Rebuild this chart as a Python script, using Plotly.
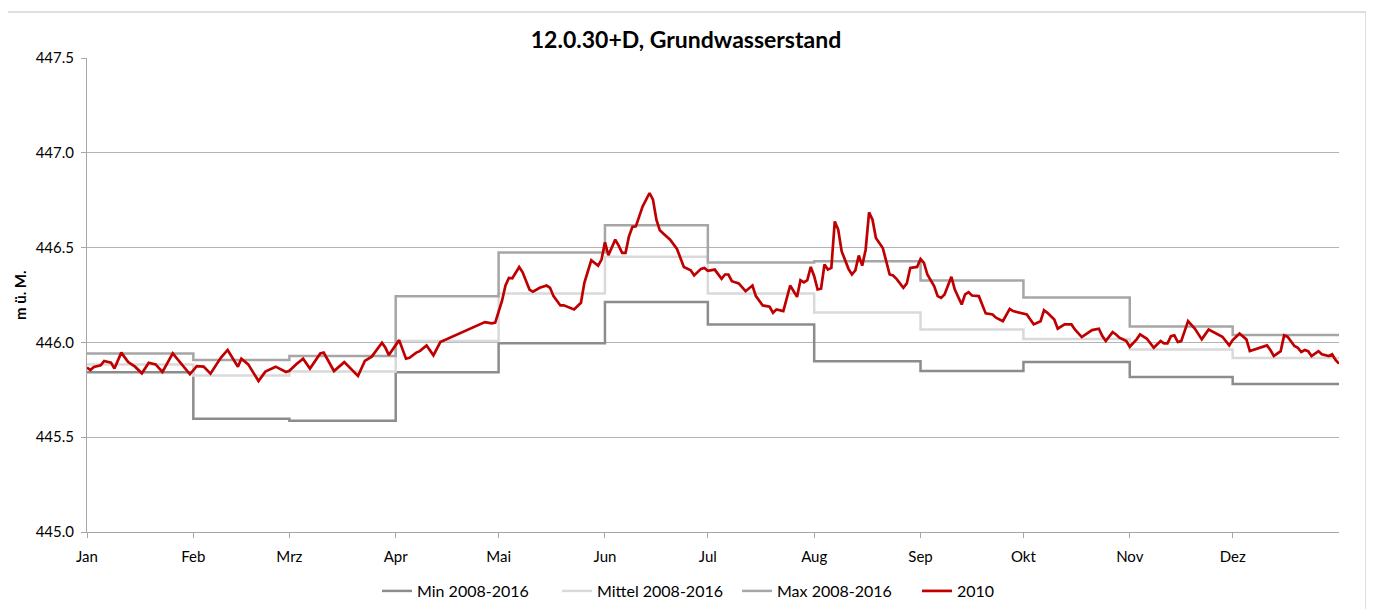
import plotly.graph_objects as go

# Month tick positions (day of year) and labels
month_start_days = [0, 31, 59, 90, 120, 151, 181, 212, 243, 273, 304, 334]
month_labels = ["Jan", "Feb", "Mrz", "Apr", "Mai", "Jun", "Jul", "Aug", "Sep", "Okt", "Nov", "Dez"]
year_end_day = 365

# Monthly statistics 2008-2016 (m ü. M.)
min_vals = [445.842, 445.597, 445.587, 445.842, 445.995, 446.213, 446.095, 445.900, 445.849, 445.897, 445.818, 445.780]
mittel_vals = [445.884, 445.826, 445.847, 446.008, 446.258, 446.452, 446.258, 446.158, 446.068, 446.018, 445.963, 445.918]
max_vals = [445.942, 445.907, 445.928, 446.244, 446.474, 446.618, 446.421, 446.428, 446.326, 446.237, 446.084, 446.039]

# 2010 daily groundwater level (day of year, value)
days_2010 = [0, 1, 2, 4, 5, 7, 8, 10, 12, 14, 16, 18, 20, 22, 25, 27, 30, 32, 34, 36,
             39, 41, 44, 45, 47, 50, 52, 55, 58, 59, 61, 63, 65, 68, 69, 72, 75, 79, 81, 83,
             86, 87, 88, 91, 93, 94, 96, 97, 99, 101, 103, 116, 118, 119, 121, 122, 123, 124, 126, 127,
             129, 130, 132, 134, 135, 136, 138, 139, 141, 142, 144, 145, 147, 148, 149, 150, 151, 152, 154, 155,
             156, 157, 158, 159, 160, 161, 162, 164, 165, 166, 167, 168, 170, 172, 173, 174, 176, 177, 179, 180,
             181, 183, 185, 186, 187, 188, 190, 192, 194, 195, 197, 199, 200, 201, 203, 205, 207, 208, 209, 210,
             211, 212, 213, 214, 215, 216, 217, 218, 219, 220, 222, 223, 224, 225, 226, 227, 228, 229, 230, 232,
             234, 235, 236, 238, 239, 240, 242, 243, 244, 245, 247, 248, 249, 250, 252, 253, 255, 256, 257, 258,
             260, 262, 264, 265, 267, 269, 270, 272, 274, 275, 276, 278, 279, 280, 282, 283, 285, 287, 288, 290,
             292, 293, 295, 296, 297, 299, 300, 301, 303, 304, 306, 307, 309, 311, 313, 314, 315, 316, 317, 318,
             319, 321, 323, 325, 327, 329, 331, 333, 334, 336, 337, 338, 339, 341, 342, 344, 345, 346, 348, 349,
             350, 351, 352, 353, 354, 355, 356, 357, 359, 360, 362, 363, 364, 365]
vals_2010 = [445.867, 445.854, 445.870, 445.879, 445.902, 445.893, 445.862, 445.946, 445.896, 445.872,
             445.837, 445.893, 445.884, 445.844, 445.942, 445.896, 445.832, 445.875, 445.872, 445.835,
             445.919, 445.960, 445.872, 445.914, 445.884, 445.796, 445.846, 445.872, 445.844, 445.850,
             445.885, 445.914, 445.862, 445.942, 445.946, 445.849, 445.896, 445.823, 445.902, 445.925,
             445.998, 445.972, 445.933, 446.012, 445.914, 445.919, 445.946, 445.954, 445.984, 445.932,
             446.002, 446.107, 446.100, 446.104, 446.220, 446.300, 446.340, 446.338, 446.398, 446.370,
             446.279, 446.267, 446.288, 446.300, 446.288, 446.244, 446.195, 446.196, 446.183, 446.174,
             446.209, 446.314, 446.433, 446.419, 446.405, 446.437, 446.528, 446.460, 446.542, 446.510,
             446.472, 446.472, 446.559, 446.609, 446.612, 446.665, 446.718, 446.788, 446.753, 446.647,
             446.591, 446.574, 446.542, 446.493, 446.440, 446.398, 446.380, 446.353, 446.388, 446.393,
             446.378, 446.384, 446.335, 446.358, 446.358, 446.323, 446.311, 446.270, 446.300, 446.244,
             446.195, 446.188, 446.156, 446.174, 446.165, 446.300, 446.240, 446.328, 446.317, 446.328,
             446.398, 446.349, 446.279, 446.283, 446.411, 446.384, 446.393, 446.638, 446.595, 446.481,
             446.388, 446.358, 446.380, 446.458, 446.405, 446.489, 446.686, 446.647, 446.551, 446.498,
             446.358, 446.353, 446.335, 446.288, 446.311, 446.393, 446.398, 446.440, 446.419, 446.358,
             446.296, 446.244, 446.235, 446.253, 446.346, 446.279, 446.200, 446.253, 446.265, 446.247,
             446.244, 446.153, 446.147, 446.130, 446.112, 446.177, 446.165, 446.156, 446.147, 446.121,
             446.095, 446.112, 446.170, 446.156, 446.121, 446.072, 446.095, 446.095, 446.068, 446.028,
             446.054, 446.065, 446.072, 446.033, 446.007, 446.054, 446.042, 446.025, 446.007, 445.977,
             446.016, 446.042, 446.019, 445.972, 446.007, 445.995, 445.995, 446.033, 446.037, 446.002,
             446.007, 446.112, 446.072, 446.016, 446.068, 446.047, 446.030, 445.984, 446.012, 446.047,
             446.033, 446.016, 445.954, 445.967, 445.972, 445.984, 445.960, 445.928, 445.954, 446.037,
             446.030, 446.002, 445.981, 445.972, 445.949, 445.960, 445.954, 445.928, 445.954, 445.937,
             445.928, 445.937, 445.907, 445.888]

FONT = "Lato"
step_x = month_start_days + [year_end_day]

fig = go.Figure()
fig.add_trace(go.Scatter(x=step_x, y=min_vals + [min_vals[-1]], mode="lines", line_shape="hv",
                         name="Min 2008-2016", line=dict(color="#8c8c8c", width=2.5)))
fig.add_trace(go.Scatter(x=step_x, y=mittel_vals + [mittel_vals[-1]], mode="lines", line_shape="hv",
                         name="Mittel 2008-2016", line=dict(color="#d9d9d9", width=2.5)))
fig.add_trace(go.Scatter(x=step_x, y=max_vals + [max_vals[-1]], mode="lines", line_shape="hv",
                         name="Max 2008-2016", line=dict(color="#a6a6a6", width=2.5)))
fig.add_trace(go.Scatter(x=days_2010, y=vals_2010, mode="lines",
                         name="2010", line=dict(color="#c00000", width=2.7)))

fig.update_layout(
    width=1374, height=609,
    margin=dict(l=79, r=43, t=50, b=85, autoexpand=False),
    paper_bgcolor="white", plot_bgcolor="white",
    font=dict(family=FONT, size=15, color="#000000"),
    title=dict(text="<b>12.0.30+D, Grundwasserstand</b>", x=(686 - 8) / 1374, xanchor="center",
               y=1 - 32 / 609, yanchor="middle", font=dict(family=FONT, size=23, color="#000000")),
    showlegend=True,
    legend=dict(orientation="h", x=(377 - 87) / 1252, xanchor="left", y=-0.1245, yanchor="middle",
                font=dict(family=FONT, size=16), itemwidth=30, tracegroupgap=0,
                entrywidth=135, entrywidthmode="pixels"),
    xaxis=dict(range=[0, year_end_day], tickmode="array", tickvals=month_start_days, ticktext=month_labels,
               showgrid=False, zeroline=False, showline=True, linecolor="#a6a6a6", linewidth=1,
               ticks="outside", ticklen=5, tickcolor="#a6a6a6", ticklabelstandoff=6,
               tickfont=dict(size=15, family=FONT)),
    yaxis=dict(range=[445.0, 447.5], tickmode="array", tickvals=[445.0, 445.5, 446.0, 446.5, 447.0, 447.5],
               ticktext=["445.0", "445.5", "446.0", "446.5", "447.0", "447.5"],
               showgrid=True, gridcolor="#b3b3b3", gridwidth=1, zeroline=False,
               showline=True, linecolor="#a6a6a6", linewidth=1,
               ticks="outside", ticklen=5, tickcolor="#a6a6a6", ticklabelstandoff=4,
               tickfont=dict(size=15, family=FONT)),
    shapes=[dict(type="rect", xref="paper", yref="paper",
                 x0=(3 - 87) / 1252, x1=(1366 - 87) / 1252, y0=-0.2, y1=(532 - 12) / 474,
                 line=dict(color="#bfbfbf", width=1), fillcolor="rgba(0,0,0,0)", layer="below")],
    annotations=[dict(text="<b>m ü. M.</b>", xref="paper", yref="paper", x=(20 - 87) / 1252, y=0.5,
                      xanchor="center", yanchor="middle", textangle=-90, showarrow=False,
                      font=dict(family=FONT, size=15))],
)

fig.write_html("out.html")
